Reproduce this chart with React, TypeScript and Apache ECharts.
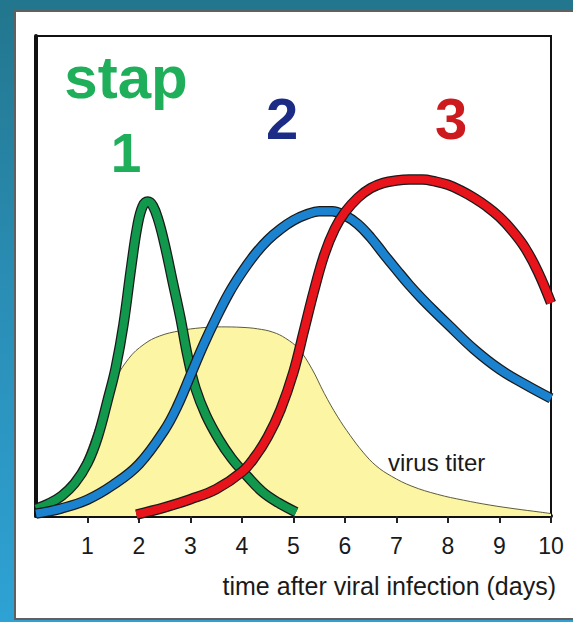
import React, { useEffect, useRef } from "react";
import * as echarts from "echarts";

// Day ticks shown on the x axis
const dayTicks = [1, 2, 3, 4, 5, 6, 7, 8, 9, 10];

// [day, relative level 0-100]
const stage1Green = [
  [0.0, 1.5], [0.25, 2.6], [0.5, 4.2], [0.75, 6.8], [1.0, 11], [1.2, 16.5],
  [1.4, 24.5], [1.55, 31], [1.7, 40], [1.85, 52], [1.97, 60.5], [2.07, 64.5],
  [2.17, 65.5], [2.27, 64.6], [2.38, 61.5], [2.5, 56.5], [2.65, 49], [2.8, 41.5],
  [2.95, 33], [3.1, 26.5], [3.3, 21], [3.55, 16], [3.8, 12], [4.1, 8.3],
  [4.4, 5], [4.7, 2.8], [5.05, 0.8],
];

const stage2Blue = [
  [0.0, 0.5], [0.5, 1.6], [1.0, 3.4], [1.5, 6.5], [2.0, 10.8], [2.5, 18],
  [2.75, 23], [3.0, 29.3], [3.25, 35.6], [3.5, 41.3], [3.75, 46.5], [4.0, 50.8],
  [4.25, 54.5], [4.5, 57.5], [4.75, 59.8], [5.0, 61.6], [5.25, 62.8], [5.5, 63.5],
  [5.75, 63.5], [6.0, 62.6], [6.25, 60.8], [6.5, 58], [6.75, 54.6], [7.0, 51.3],
  [7.25, 48.1], [7.5, 45.2], [7.75, 42.5], [8.0, 39.9], [8.5, 34.8], [9.0, 30.6],
  [9.5, 27.4], [10, 24.5],
];

const stage3Red = [
  [1.95, 0.3], [2.5, 1.8], [3.0, 3.5], [3.5, 5.6], [4.0, 9.2], [4.25, 12.3],
  [4.5, 16.5], [4.75, 22.2], [5.0, 30], [5.2, 38.5], [5.4, 47], [5.6, 54.5],
  [5.8, 59.8], [6.0, 63.3], [6.25, 66.3], [6.5, 68.3], [6.75, 69.4], [7.0, 69.9],
  [7.25, 70.1], [7.5, 70.1], [7.75, 69.7], [8.0, 69], [8.25, 67.8], [8.5, 66.3],
  [8.75, 64.5], [9.0, 62.3], [9.25, 59.4], [9.5, 55.8], [9.75, 50.8], [10, 44.4],
];

const virusTiter = [
  [0.05, 0], [0.3, 1.5], [0.6, 5], [0.9, 11], [1.2, 19.5], [1.5, 27.5], [1.8, 32.8],
  [2.1, 35.8], [2.4, 37.5], [2.8, 38.6], [3.2, 39.2], [3.6, 39.4], [4.0, 39.3],
  [4.3, 39], [4.6, 38.3], [4.85, 37], [5.1, 34.8], [5.35, 30.8], [5.6, 25.5],
  [5.85, 20.8], [6.1, 16.8], [6.35, 13.3], [6.6, 10.5], [6.9, 8.3], [7.3, 6.2],
  [7.8, 4.5], [8.3, 3.3], [8.8, 2.3], [9.3, 1.5], [9.8, 0.8], [10, 0.5],
];

const xTitle = "time after viral infection (days)";
const titerLabel = "virus titer";
const stageWord = "stap";
const stageNames = ["1", "2", "3"];

const FONT = "'Liberation Sans', Arial, Helvetica, sans-serif";
const SMOOTH = 0.4;

function curve(name: string, data: number[][], color: string, z: number) {
  return [
    {
      name: name + "-outline",
      type: "line",
      data,
      smooth: SMOOTH,
      showSymbol: false,
      silent: true,
      z,
      lineStyle: { color: "#1a1a1a", width: 10.5 },
    },
    {
      name,
      type: "line",
      data,
      smooth: SMOOTH,
      showSymbol: false,
      silent: true,
      z: z + 0.5,
      lineStyle: { color, width: 8 },
    },
  ];
}

export default function App() {
  const ref = useRef<HTMLDivElement>(null);

  useEffect(() => {
    if (!ref.current) return;
    const chart = echarts.init(ref.current, undefined, { renderer: "svg" });
    chart.setOption({
      animation: false,
      backgroundColor: "transparent",
      grid: {
        left: 36,
        right: 22,
        top: 36,
        bottom: 106,
        show: true,
        borderColor: "#111",
        borderWidth: 2,
        backgroundColor: "transparent",
      },
      xAxis: {
        type: "value",
        min: 0,
        max: 10,
        interval: 1,
        axisLine: { show: true, lineStyle: { color: "#111", width: 4 } },
        axisTick: {
          show: true,
          length: 7,
          customValues: dayTicks,
          lineStyle: { color: "#222", width: 2 },
        },
        axisLabel: {
          margin: 18,
          fontSize: 23,
          color: "#1a1a1a",
          fontFamily: FONT,
          customValues: dayTicks,
          formatter: (v: number) => String(v),
        },
        splitLine: { show: false },
      },
      yAxis: {
        type: "value",
        min: 0,
        max: 100,
        axisLine: { show: true, lineStyle: { color: "#111", width: 4 } },
        axisTick: { show: false },
        axisLabel: { show: false },
        splitLine: { show: false },
      },
      series: [
        {
          name: titerLabel,
          type: "line",
          data: virusTiter,
          smooth: SMOOTH,
          showSymbol: false,
          silent: true,
          z: 1,
          lineStyle: { color: "#4a4a2a", width: 0.9 },
          areaStyle: { color: "#fbf5a4", opacity: 1 },
        },
        ...curve("stap 1", stage1Green, "#11984d", 2),
        ...curve("stap 2", stage2Blue, "#1b82d0", 3),
        ...curve("stap 3", stage3Red, "#e8141c", 4),
      ],
      graphic: [
        {
          type: "text",
          x: 126,
          y: 77,
          style: {
            text: stageWord,
            fill: "#1fae5a",
            font: "bold 60px " + FONT,
            textAlign: "center",
            textVerticalAlign: "middle",
          },
        },
        {
          type: "text",
          x: 126,
          y: 153,
          style: {
            text: stageNames[0],
            fill: "#1fae5a",
            font: "bold 55px " + FONT,
            textAlign: "center",
            textVerticalAlign: "middle",
          },
        },
        {
          type: "text",
          x: 282,
          y: 118,
          style: {
            text: stageNames[1],
            fill: "#1c2c86",
            font: "bold 58px " + FONT,
            textAlign: "center",
            textVerticalAlign: "middle",
          },
        },
        {
          type: "text",
          x: 451,
          y: 118,
          style: {
            text: stageNames[2],
            fill: "#cc1a1e",
            font: "bold 58px " + FONT,
            textAlign: "center",
            textVerticalAlign: "middle",
          },
        },
        {
          type: "text",
          x: 388,
          y: 462,
          z: 10,
          style: {
            text: titerLabel,
            fill: "#1a1a1a",
            font: "24px " + FONT,
            textAlign: "left",
            textVerticalAlign: "middle",
          },
        },
        {
          type: "text",
          x: 556,
          y: 586,
          style: {
            text: xTitle,
            fill: "#1a1a1a",
            font: "25px " + FONT,
            textAlign: "right",
            textVerticalAlign: "middle",
          },
        },
      ],
    });
    return () => chart.dispose();
  }, []);

  return (
    <div
      style={{
        position: "absolute",
        left: 0,
        top: 0,
        width: 573,
        height: 622,
        overflow: "hidden",
        background: "linear-gradient(180deg, #22768d 0%, #2a8db4 45%, #2ea2d4 100%)",
      }}
    >
      <div
        style={{
          position: "absolute",
          left: 14,
          top: 10,
          width: 575,
          height: 606,
          background: "#ffffff",
          border: "2px solid #606060",
        }}
      />
      <div
        ref={ref}
        style={{ position: "absolute", left: 0, top: 0, width: 573, height: 622 }}
      />
    </div>
  );
}
